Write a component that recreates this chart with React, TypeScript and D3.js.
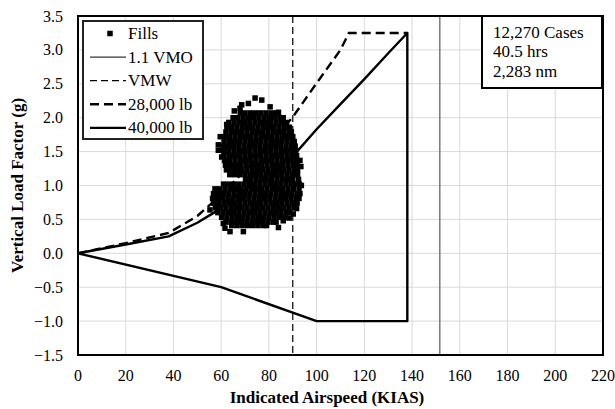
import React from "react";
import * as d3 from "d3";

const W = 615;
const H = 409;

const xTicks = [0, 20, 40, 60, 80, 100, 120, 140, 160, 180, 200, 220];
const yTicks = [-1.5, -1.0, -0.5, 0.0, 0.5, 1.0, 1.5, 2.0, 2.5, 3.0, 3.5];

const vmwSpeed = 90;
const vmoSpeed = 151.6;

const env28000: [number, number][] = [
  [0, 0], [20, 0.15], [38, 0.3], [50, 0.55], [60, 0.86], [70, 1.23], [80, 1.6],
  [90, 2.01], [100, 2.51], [110, 3.0], [113.5, 3.25], [138, 3.25],
];

const env40000: [number, number][] = [
  [0, 0], [20, 0.13], [38, 0.25], [50, 0.45], [57, 0.6], [65, 0.82], [75, 1.06],
  [85, 1.3], [91, 1.47], [100, 1.83], [110, 2.2], [120, 2.57], [130, 2.95],
  [138, 3.25], [138, -1.0], [100, -1.0], [60, -0.5], [0, 0],
];

// Fills: rows of [load factor, airspeeds...]
const fillRows: [number, number[]][] = [
  [2.07, [68, 70, 72.2, 74.4, 76.6, 78.8, 81, 83]],
  [2.0, [65, 67, 69.2, 71.4, 73.6, 75.8, 78, 80.2, 82.4, 84.6, 86]],
  [1.93, [63.2, 65.4, 67.6, 69.8, 72, 74.2, 76.4, 78.6, 80.8, 83, 85.2, 87.4]],
  [1.86, [62.4, 64.4, 66.6, 68.8, 71, 73.2, 75.4, 77.6, 79.8, 82, 84.2, 86.4, 88.6]],
  [1.79, [62, 64.2, 66.4, 68.6, 70.8, 73, 75.2, 77.4, 79.6, 81.8, 84, 86.2, 88.4, 89.4]],
  [1.72, [61.6, 63.6, 65.8, 68, 70.2, 72.4, 74.6, 76.8, 79, 81.2, 83.4, 85.6, 87.8, 90]],
  [1.65, [61.2, 63.4, 65.6, 67.8, 70, 72.2, 74.4, 76.6, 78.8, 81, 83.2, 85.4, 87.6, 89.8, 90.6]],
  [1.58, [61, 63, 65.2, 67.4, 69.6, 71.8, 74, 76.2, 78.4, 80.6, 82.8, 85, 87.2, 89.4, 91]],
  [1.51, [61, 63.2, 65.4, 67.6, 69.8, 72, 74.2, 76.4, 78.6, 80.8, 83, 85.2, 87.4, 89.6, 91.2]],
  [1.44, [61.2, 63.4, 65.6, 67.8, 70, 72.2, 74.4, 76.6, 78.8, 81, 83.2, 85.4, 87.6, 89.8, 91.6]],
  [1.37, [61.4, 63.6, 65.8, 68, 70.2, 72.4, 74.6, 76.8, 79, 81.2, 83.4, 85.6, 87.8, 90, 91.8]],
  [1.3, [61.8, 63.8, 66, 68.2, 70.4, 72.6, 74.8, 77, 79.2, 81.4, 83.6, 85.8, 88, 90.2, 91.8]],
  [1.23, [62.2, 64.2, 66.4, 68.6, 70.8, 73, 75.2, 77.4, 79.6, 81.8, 84, 86.2, 88.4, 90.6, 92]],
  [1.16, [63.6, 65.6, 67.8, 70, 72.2, 74.4, 76.6, 78.8, 81, 83.2, 85.4, 87.6, 89.8, 92]],
  [1.09, [70.2, 72.4, 74.6, 76.8, 79, 81.2, 83.4, 85.6, 87.8, 90, 92.4]],
  [1.02, [61, 63, 65.2, 67.4, 69.6, 71.8, 74, 76.2, 78.4, 80.6, 82.8, 85, 87.2, 89.4, 91.6, 92.8]],
  [0.95, [57.4, 59.4, 61.6, 63.8, 66, 68.2, 70.4, 72.6, 74.8, 77, 79.2, 81.4, 83.6, 85.8, 88, 90.2, 92.6]],
  [0.88, [56.8, 58.8, 61, 63.2, 65.4, 67.6, 69.8, 72, 74.2, 76.4, 78.6, 80.8, 83, 85.2, 87.4, 89.6, 91.8, 93]],
  [0.81, [56.4, 58.4, 60.6, 62.8, 65, 67.2, 69.4, 71.6, 73.8, 76, 78.2, 80.4, 82.6, 84.8, 87, 89.2, 91.4, 92.6]],
  [0.74, [56.8, 59, 61.2, 63.4, 65.6, 67.8, 70, 72.2, 74.4, 76.6, 78.8, 81, 83.2, 85.4, 87.6, 89.8, 91.8]],
  [0.67, [57.6, 59.8, 62, 64.2, 66.4, 68.6, 70.8, 73, 75.2, 77.4, 79.6, 81.8, 84, 86.2, 88.4, 90.6]],
  [0.6, [58.6, 60.8, 63, 65.2, 67.4, 69.6, 71.8, 74, 76.2, 78.4, 80.6, 82.8, 85, 87.2, 88.8]],
  [0.53, [60.2, 62.4, 64.6, 66.8, 69, 71.2, 73.4, 75.6, 77.8, 80, 82.2, 84.4, 86.6]],
  [0.46, [62, 64.2, 66.4, 68.6, 70.8, 73, 75.2, 77.4, 79.6, 81.8, 83]],
  [0.41, [64.4, 66.6, 68.8, 71, 73.2, 75.4, 77.6, 79]],
];

const fillOutliers: [number, number][] = [
  [74.2, 2.29], [77, 2.26], [68.6, 2.19], [71.4, 2.21], [80.5, 2.16], [67.9, 2.14],
  [65.5, 2.1], [84, 2.08], [62.3, 1.9], [58.8, 1.6], [58.8, 1.52], [60.2, 1.42],
  [59.6, 1.72], [93, 1.37], [93.4, 1.28], [93.6, 1.0], [91.6, 0.66], [90.2, 0.58],
  [55.3, 0.64], [61.6, 0.37], [63.7, 0.32], [69.3, 0.32], [84, 0.38], [60.9, 0.44],
  [86, 0.48], [88.5, 0.52],
];

const legendItems = ["Fills", "1.1 VMO", "VMW", "28,000 lb", "40,000 lb"];
const infoLines = ["12,270 Cases", "40.5 hrs", "2,283 nm"];

const FONT = "'Liberation Serif', 'Times New Roman', serif";

export default function App() {
  const x = d3.scaleLinear().domain([0, 220]).range([78, 603]);
  const y = d3.scaleLinear().domain([-1.5, 3.5]).range([355, 16]);
  const line = d3
    .line<[number, number]>()
    .x((d) => x(d[0]))
    .y((d) => y(d[1]));

  const fills: [number, number][] = [];
  fillRows.forEach(([ly, xs]) => xs.forEach((sx) => fills.push([sx, ly])));
  fillOutliers.forEach((p) => fills.push(p));

  const sq = 5.5;
  const legX = 83;
  const legY = 21;
  const rowY = (i: number) => 33.5 + i * 23.6;

  return (
    <svg
      width={W}
      height={H}
      style={{ position: "absolute", left: 0, top: 0, background: "#fff" }}
      fontFamily={FONT}
    >
      <rect x={0} y={0} width={W} height={H} fill="#fff" />
      {/* grid */}
      {xTicks.map((t) => (
        <line key={"gx" + t} x1={x(t)} x2={x(t)} y1={y(3.5)} y2={y(-1.5)} stroke="#d9d9d9" strokeWidth={1} />
      ))}
      {yTicks.map((t) => (
        <line key={"gy" + t} x1={x(0)} x2={x(220)} y1={y(t)} y2={y(t)} stroke="#d9d9d9" strokeWidth={1} />
      ))}
      {/* VMO */}
      <line x1={x(vmoSpeed)} x2={x(vmoSpeed)} y1={y(3.5)} y2={y(-1.5)} stroke="#7f7f7f" strokeWidth={1.6} />
      {/* VMW */}
      <line x1={x(vmwSpeed)} x2={x(vmwSpeed)} y1={y(3.5)} y2={y(-1.5)} stroke="#000" strokeWidth={1.2} strokeDasharray="7,4" />
      {/* envelopes */}
      <path d={line(env28000) || ""} fill="none" stroke="#000" strokeWidth={2.4} strokeDasharray="9,5" />
      <path d={line(env40000) || ""} fill="none" stroke="#000" strokeWidth={2.4} strokeLinejoin="round" />
      {/* fills */}
      {fills.map((p, i) => (
        <rect key={"f" + i} x={x(p[0]) - sq / 2} y={y(p[1]) - sq / 2} width={sq} height={sq} fill="#000" />
      ))}
      {/* frame */}
      <rect x={x(0)} y={y(3.5)} width={x(220) - x(0)} height={y(-1.5) - y(3.5)} fill="none" stroke="#000" strokeWidth={2} />
      {/* tick labels */}
      {xTicks.map((t) => (
        <text key={"tx" + t} x={x(t)} y={381} textAnchor="middle" fontSize={16} fill="#000">
          {t}
        </text>
      ))}
      {yTicks.map((t) => (
        <text key={"ty" + t} x={63} y={y(t) + 5.5} textAnchor="end" fontSize={16} fill="#000">
          {d3.format(".1f")(t)}
        </text>
      ))}
      {/* axis titles */}
      <text x={327} y={403} textAnchor="middle" fontSize={17} fontWeight="bold" fill="#000">
        Indicated Airspeed (KIAS)
      </text>
      <text
        transform={`translate(23,${(y(3.5) + y(-1.5)) / 2}) rotate(-90)`}
        textAnchor="middle"
        fontSize={17}
        fontWeight="bold"
        fill="#000"
      >
        Vertical Load Factor (g)
      </text>
      {/* legend */}
      <rect x={legX} y={legY} width={120} height={118} fill="#fff" stroke="#222" strokeWidth={2} />
      {legendItems.map((name, i) => {
        const cy = rowY(i);
        let sym: React.ReactNode = null;
        if (i === 0) sym = <rect x={110 - 2.75} y={cy - 2.75} width={5.5} height={5.5} fill="#000" />;
        if (i === 1) sym = <line x1={90} x2={126} y1={cy} y2={cy} stroke="#000" strokeWidth={1} />;
        if (i === 2) sym = <line x1={90} x2={126} y1={cy} y2={cy} stroke="#000" strokeWidth={1.2} strokeDasharray="7,4" />;
        if (i === 3) sym = <line x1={90} x2={126} y1={cy} y2={cy} stroke="#000" strokeWidth={2.4} strokeDasharray="9,5" />;
        if (i === 4) sym = <line x1={90} x2={126} y1={cy} y2={cy} stroke="#000" strokeWidth={2.4} />;
        return (
          <g key={name}>
            {sym}
            <text x={128} y={cy + 5.5} fontSize={17} fill="#000">
              {name}
            </text>
          </g>
        );
      })}
      {/* info box */}
      <rect x={482} y={16} width={120} height={72} fill="#fff" stroke="#000" strokeWidth={2} />
      {infoLines.map((t, i) => (
        <text key={t} x={493} y={37.5 + i * 19.6} fontSize={17} fill="#000">
          {t}
        </text>
      ))}
    </svg>
  );
}
